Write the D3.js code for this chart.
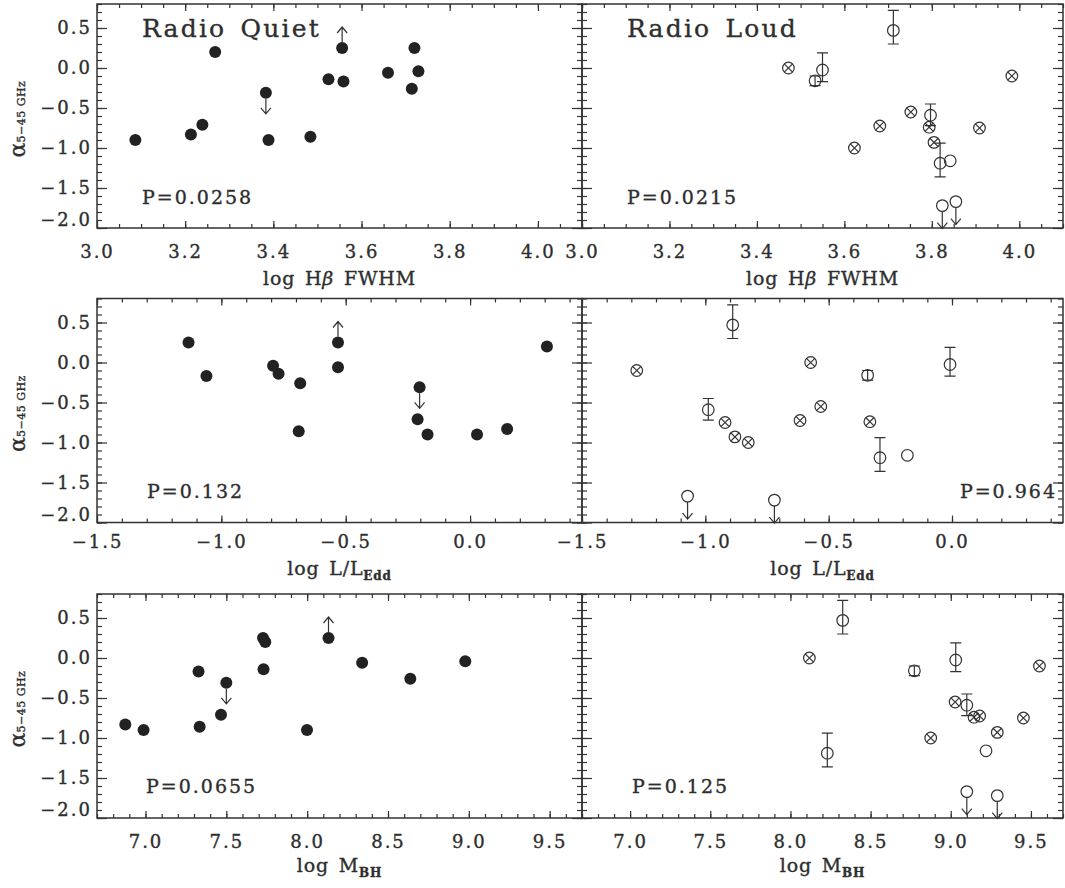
<!DOCTYPE html>
<html>
<head>
<meta charset="utf-8">
<script src="https://cdn.jsdelivr.net/npm/d3@7"></script>
<style>
  body { margin: 0; background: #fff; }
  svg text { font-family: "DejaVu Serif", serif; fill: #2e2e2e; stroke: #2e2e2e; stroke-width: 0.35px; }
</style>
</head>
<body>
<svg width="1065" height="888"></svg>
<script>
// radio quiet objects: spectral index, limit flag, and the three x quantities
const rqAlpha = [0.25, -0.31, 0.25, 0.20, -0.04, -0.06, -0.14, -0.17, -0.26, -0.71, -0.83, -0.86, -0.90, -0.90];
const rqLimit = ["up", "down", "", "", "", "", "", "", "", "", "", "", "", ""];
const rqHb  = [3.556, 3.383, 3.720, 3.268, 3.729, 3.660, 3.525, 3.559, 3.714, 3.239, 3.213, 3.484, 3.087, 3.389];
const rqEdd = [-0.531, -0.203, -1.132, 0.309, -0.792, -0.531, -0.770, -1.060, -0.683, -0.211, 0.149, -0.689, -0.171, 0.028];
const rqMbh = [8.132, 7.500, 7.727, 7.741, 8.978, 8.340, 7.730, 7.328, 8.638, 7.467, 6.875, 7.335, 6.988, 7.999];

// radio loud objects (o = open circle, x = crossed circle, lim = upper limit)
const rlAlpha = [0.47, -0.025, 0.0, -0.16, -0.10, -0.55, -0.59, -0.725, -0.74, -0.75, -0.93, -1.00, -1.19, -1.16, -1.72, -1.67];
const rlKind  = ["o", "o", "x", "o", "x", "x", "o", "x", "x", "x", "x", "x", "o", "o", "lim", "lim"];
const rlErrLo = [0.30, -0.17, null, -0.22, null, null, -0.72, null, null, null, null, null, -1.36, null, null, null];
const rlErrHi = [0.72, 0.19, null, -0.10, null, null, -0.45, null, null, null, null, null, -0.94, null, null, null];
const rlHb  = [3.712, 3.550, 3.472, 3.533, 3.983, 3.752, 3.797, 3.681, 3.794, 3.909, 3.805, 3.623, 3.819, 3.842, 3.824, 3.855];
const rlEdd = [-0.889, -0.008, -0.573, -0.342, -1.278, -0.532, -0.988, -0.616, -0.333, -0.920, -0.880, -0.826, -0.292, -0.181, -0.720, -1.072];
const rlMbh = [8.326, 9.031, 8.118, 8.773, 9.553, 9.027, 9.100, 9.180, 9.145, 9.453, 9.290, 8.875, 8.230, 9.220, 9.290, 9.100];

const pValues = [["0.0258", "0.0215"], ["0.132", "0.964"], ["0.0655", "0.125"]];
const xDomains = [[3.0, 4.1], [-1.5, 0.45], [6.7, 9.7]];
const yDomain = [-2.0, 0.8];

const svg = d3.select("svg");
const ink = "#333";
const dot = "#222";

const cols = [[97, 582], [582, 1063]];
const rows = [[4, 228], [298.5, 522.5], [594, 818]];
const xMajor = [0.2, 0.5, 0.5], xMinor = [0.05, 0.1, 0.1];
const labelPad = [17, 13, 17];
const titleBase = [285, 575, 872];
const fmt = d3.format(".1f");

function steps(d, step) {
  return d3.range(Math.ceil(d[0] / step - 1e-6), Math.floor(d[1] / step + 1e-6) + 1)
    .map(i => +(i * step).toFixed(3));
}

function styleAxis(g) {
  g.attr("color", ink);
  g.select(".domain").remove();
  g.selectAll("line").attr("stroke-width", 1.2);
  g.selectAll("text").attr("font-size", 18).attr("letter-spacing", 2);
}

function arrow(g, cx, cy, dir, from, to) {
  const a = cy + dir * from, b = cy + dir * to;
  g.append("path")
    .attr("d", `M${cx},${a}L${cx},${b}M${cx - 5},${b - dir * 6}L${cx},${b}L${cx + 5},${b - dir * 6}`)
    .attr("fill", "none").attr("stroke", ink).attr("stroke-width", 1.2);
}

function panel(r, c) {
  const [x0, x1] = cols[c], [y0, y1] = rows[r];
  const x = d3.scaleLinear().domain(xDomains[r]).range([x0, x1]);
  const y = d3.scaleLinear().domain(yDomain).range([y1, y0]);
  const g = svg.append("g");

  const xm = steps(xDomains[r], xMajor[r]), xn = steps(xDomains[r], xMinor[r]);
  const ym = steps(yDomain, 0.5), yn = steps(yDomain, 0.1);

  g.append("g").attr("transform", `translate(0,${y1})`)
    .call(d3.axisBottom(x).tickValues(xm).tickSize(-7).tickPadding(labelPad[r]).tickFormat(fmt))
    .call(styleAxis);
  g.append("g").attr("transform", `translate(0,${y1})`)
    .call(d3.axisBottom(x).tickValues(xn).tickSize(-4).tickFormat(""))
    .call(styleAxis);
  g.append("g").attr("transform", `translate(0,${y0})`)
    .call(d3.axisTop(x).tickValues(xm).tickSize(-7).tickFormat(""))
    .call(styleAxis);
  g.append("g").attr("transform", `translate(0,${y0})`)
    .call(d3.axisTop(x).tickValues(xn).tickSize(-4).tickFormat(""))
    .call(styleAxis);

  const left = g.append("g").attr("transform", `translate(${x0},0)`)
    .call(d3.axisLeft(y).tickValues(ym).tickSize(-10).tickPadding(5).tickFormat(c === 0 ? fmt : ""))
    .call(styleAxis);
  left.selectAll(".tick text").filter(d => d === -2).attr("y", -8);
  g.append("g").attr("transform", `translate(${x0},0)`)
    .call(d3.axisLeft(y).tickValues(yn).tickSize(-5).tickFormat(""))
    .call(styleAxis);
  g.append("g").attr("transform", `translate(${x1},0)`)
    .call(d3.axisRight(y).tickValues(ym).tickSize(-10).tickFormat(""))
    .call(styleAxis);
  g.append("g").attr("transform", `translate(${x1},0)`)
    .call(d3.axisRight(y).tickValues(yn).tickSize(-5).tickFormat(""))
    .call(styleAxis);

  g.append("rect")
    .attr("x", x0).attr("y", y0).attr("width", x1 - x0).attr("height", y1 - y0)
    .attr("fill", "none").attr("stroke", ink).attr("stroke-width", 1.5);

  // x title
  const t = g.append("text")
    .attr("x", (x0 + x1) / 2).attr("y", titleBase[r])
    .attr("text-anchor", "middle").attr("font-size", 19)
    .attr("letter-spacing", 0.8).attr("word-spacing", 3);
  if (r === 0) {
    t.append("tspan").text("log H");
    t.append("tspan").attr("font-style", "italic").text("β");
    t.append("tspan").text(" FWHM");
  } else if (r === 1) {
    t.append("tspan").text("log L/L");
    t.append("tspan").attr("font-size", 12).attr("font-weight", "bold").attr("dy", 5).text("Edd");
  } else {
    t.append("tspan").text("log M");
    t.append("tspan").attr("font-size", 12).attr("font-weight", "bold").attr("dy", 5).text("BH");
  }

  // y title on left column only
  if (c === 0) {
    const yt = g.append("text")
      .attr("transform", `translate(25,${(y0 + y1) / 2 + 3}) rotate(-90)`)
      .attr("text-anchor", "middle");
    yt.append("tspan").attr("font-size", 22).text("α");
    yt.append("tspan").attr("font-size", 11).attr("letter-spacing", 0.5).text("5−45 GHz");
  }

  // P value
  const pv = pValues[r][c];
  const pRight = r === 1 && c === 1;
  const pX = [[142, 627], [147, 1057], [146, 632]][r][c];
  const pY = [204, 498, 793][r];
  g.append("text").attr("x", pX).attr("y", pY)
    .attr("text-anchor", pRight ? "end" : "start")
    .attr("font-size", 19).attr("letter-spacing", 2)
    .text("P=" + pv);

  return { g, x, y };
}

function drawRQ(p, xs) {
  const pts = rqAlpha.map((a, i) => ({ a, lim: rqLimit[i], v: xs[i] }));
  pts.filter(d => d.lim).forEach(d =>
    arrow(p.g, p.x(d.v), p.y(d.a), d.lim === "up" ? -1 : 1, 6, 21));
  p.g.append("g").selectAll("circle")
    .data(pts).join("circle")
    .attr("cx", d => p.x(d.v)).attr("cy", d => p.y(d.a))
    .attr("r", 6).attr("fill", dot);
}

function drawRL(p, xs) {
  const pts = rlAlpha.map((a, i) => ({ a, kind: rlKind[i], lo: rlErrLo[i], hi: rlErrHi[i], v: xs[i] }));
  const g = p.g.append("g").attr("fill", "none").attr("stroke", ink).attr("stroke-width", 1.2);
  const r = 5.8, k = r * 0.72;
  pts.forEach(d => {
    const cx = p.x(d.v), cy = p.y(d.a);
    if (d.lo !== null) {
      const a = p.y(d.lo), b = p.y(d.hi);
      g.append("path").attr("d", `M${cx},${a}L${cx},${b}M${cx - 5.5},${a}L${cx + 5.5},${a}M${cx - 5.5},${b}L${cx + 5.5},${b}`);
    }
    if (d.kind === "lim") arrow(g, cx, cy, 1, r, 23);
    g.append("circle").attr("cx", cx).attr("cy", cy).attr("r", r);
    if (d.kind === "x") {
      g.append("path").attr("d", `M${cx - k},${cy - k}L${cx + k},${cy + k}M${cx - k},${cy + k}L${cx + k},${cy - k}`);
    }
  });
}

const rqX = [rqHb, rqEdd, rqMbh];
const rlX = [rlHb, rlEdd, rlMbh];
for (let r = 0; r < 3; r++) {
  drawRQ(panel(r, 0), rqX[r]);
  drawRL(panel(r, 1), rlX[r]);
}

svg.append("text").attr("x", 142).attr("y", 37)
  .attr("font-size", 25).attr("letter-spacing", 2.2).attr("word-spacing", 4)
  .text("Radio Quiet");
svg.append("text").attr("x", 627).attr("y", 37)
  .attr("font-size", 25).attr("letter-spacing", 2.2).attr("word-spacing", 4)
  .text("Radio Loud");
</script>
</body>
</html>
